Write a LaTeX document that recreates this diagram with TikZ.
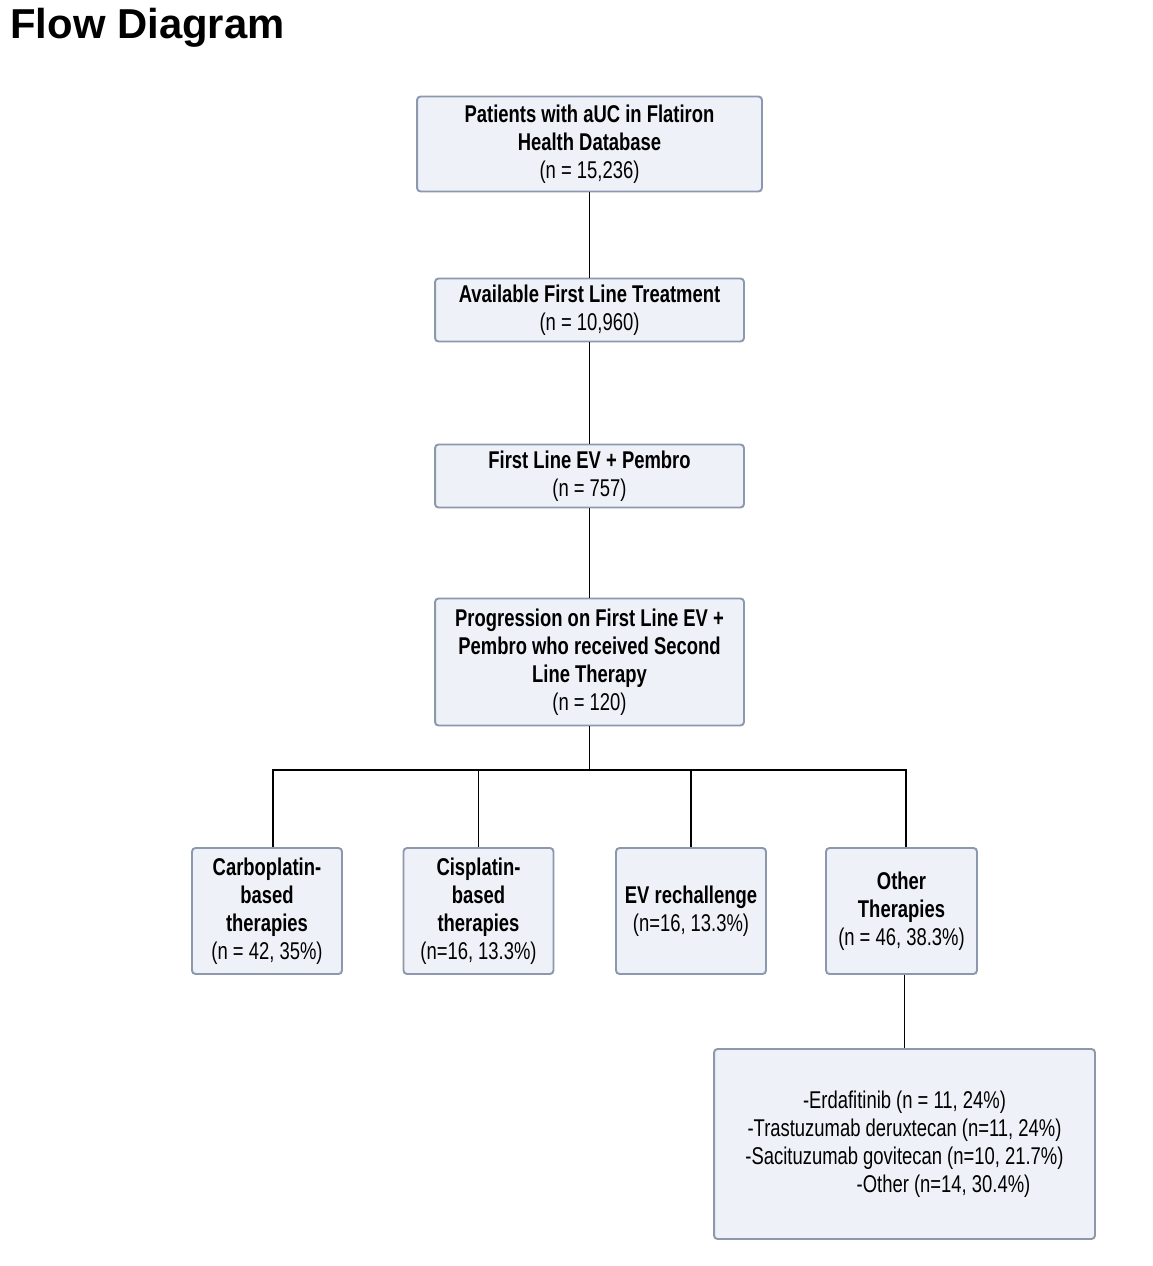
\documentclass[tikz,border=0pt]{standalone}
\usepackage{fontspec}
\setmainfont{Liberation Sans}[FakeStretch=0.76]
\newfontfamily\titlefont{Liberation Sans}
\usetikzlibrary{positioning, calc}
\definecolor{boxfill}{HTML}{EEF2F8}
\definecolor{boxline}{HTML}{8C98AE}

\tikzset{
    flowbox/.style={draw=boxline, fill=boxfill, line width=1.1pt, rounded corners=2pt,
        align=center, inner sep=0pt, font=\fontsize{13.8}{15.9}\selectfont},
    link/.style={draw=black, line width=1.1pt}
}

\begin{document}
\begin{tikzpicture}[x=0.02cm, y=-0.02cm]
    \useasboundingbox (0,0) rectangle (1152,1266);

    % Title
    \node[anchor=north west, inner sep=0pt, font=\titlefont\bfseries\fontsize{23.8}{27}\selectfont] (title) at (10,8) {Flow Diagram};

    % Main column
    \node[flowbox, minimum width=6.9cm, minimum height=1.9cm] (patients) at (589.5,144)
        {\textbf{Patients with aUC in Flatiron}\\\textbf{Health Database}\\(n = 15,236)};
    \node[flowbox, minimum width=6.18cm, minimum height=1.26cm] (firstline) at (589.5,310)
        {\textbf{Available First Line Treatment}\\(n = 10,960)};
    \node[flowbox, minimum width=6.18cm, minimum height=1.26cm] (evpembro) at (589.5,476)
        {\textbf{First Line EV + Pembro}\\(n = 757)};
    \node[flowbox, minimum width=6.18cm, minimum height=2.54cm] (progress) at (589.5,662)
        {\textbf{Progression on First Line EV +}\\\textbf{Pembro who received Second}\\\textbf{Line Therapy}\\(n = 120)};

    % Second line therapies
    \node[flowbox, minimum width=3cm, minimum height=2.52cm] (carbo) at (267,911)
        {\textbf{Carboplatin-}\\\textbf{based}\\\textbf{therapies}\\(n = 42, 35\%)};
    \node[flowbox, minimum width=3cm, minimum height=2.52cm] (cis) at (478.5,911)
        {\textbf{Cisplatin-}\\\textbf{based}\\\textbf{therapies}\\(n=16, 13.3\%)};
    \node[flowbox, minimum width=3cm, minimum height=2.52cm] (evre) at (691,911)
        {\textbf{EV rechallenge}\\(n=16, 13.3\%)};
    \node[flowbox, minimum width=3.02cm, minimum height=2.52cm] (other) at (901.5,911)
        {\textbf{Other}\\\textbf{Therapies}\\(n = 46, 38.3\%)};

    % Other therapies breakdown
    \node[flowbox, minimum width=7.62cm, minimum height=3.8cm] (otherlist) at (904.5,1144)
        {-Erdafitinib (n = 11, 24\%)\\-Trastuzumab deruxtecan (n=11, 24\%)\\-Sacituzumab govitecan (n=10, 21.7\%)\\\hspace*{1.56cm}-Other (n=14, 30.4\%)};

    % Connectors
    \coordinate (split) at (589.5,770);
    \coordinate (carbotop) at ($(carbo.north)+(6,0)$);
    \coordinate (othertop) at ($(other.north)+(4.5,0)$);
    \draw[link] (patients) -- (firstline);
    \draw[link] (firstline) -- (evpembro);
    \draw[link] (evpembro) -- (progress);
    \draw[link] (progress) -- (split);
    \draw[link] (carbotop) -- (carbotop |- split) -- (othertop |- split) -- (othertop);
    \draw[link] (cis.north) -- (cis.north |- split);
    \draw[link] (evre.north) -- (evre.north |- split);
    \draw[link] (otherlist.north) -- (otherlist.north |- other.south);
\end{tikzpicture}
\end{document}
